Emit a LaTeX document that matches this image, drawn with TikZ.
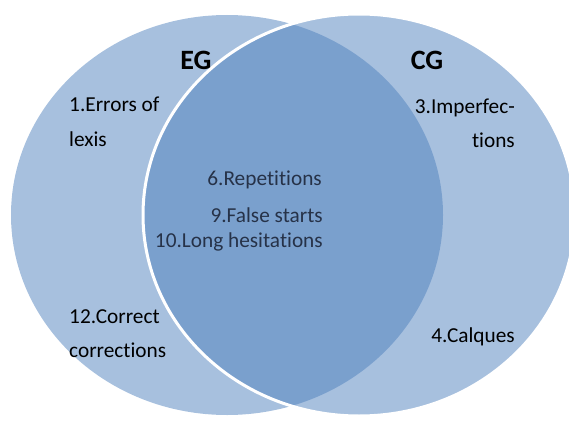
\documentclass[tikz,border=0pt]{standalone}
\usepackage{fontspec}
\setmainfont{Carlito}[Ligatures=NoCommon]
\usetikzlibrary{shapes.geometric}
\definecolor{accentblue}{RGB}{79,129,189}
\definecolor{midtext}{RGB}{38,50,72}
\tikzset{
  venn/.style={ellipse, inner sep=0pt, fill=accentblue, fill opacity=0.5,
    minimum width=432pt, minimum height=400pt},
  lbl/.style={inner sep=0pt, font=\fontsize{21.3}{25}\selectfont, text=black},
  midlbl/.style={lbl, text=midtext},
  head/.style={inner sep=0pt, font=\fontsize{28}{32}\selectfont\bfseries, text=black, anchor=base}
}
\begin{document}
\begin{tikzpicture}[x=1pt,y=1pt]
\useasboundingbox (0,0) rectangle (569,421);
\clip (0,0) rectangle (569,421);
\node[venn] (eg) at (227,206) {};
\node[venn, draw=white, draw opacity=1, line width=3pt, minimum height=402pt] (cg) at (359,206) {};
\node[head] (egt) at (196,351) {EG};
\node[head] (cgt) at (427,351) {CG};
\node[lbl, anchor=base west] (l1a) at (69,309) {1.Errors of};
\node[lbl, anchor=base west] (l1b) at (69,275) {lexis};
\node[lbl, anchor=base east] (l3a) at (515,308) {3.Imperfec-};
\node[lbl, anchor=base east] (l3b) at (515,274) {tions};
\node[midlbl, anchor=base east] (l6) at (322,236) {6.Repetitions};
\node[midlbl, anchor=base east] (l9) at (323,199) {9.False starts};
\node[midlbl, anchor=base east] (l10) at (323,174) {10.Long hesitations};
\node[lbl, anchor=base west] (l12a) at (69,98) {12.Correct};
\node[lbl, anchor=base west] (l12b) at (69,64) {corrections};
\node[lbl, anchor=base east] (l4) at (515,79) {4.Calques};
\end{tikzpicture}
\end{document}
